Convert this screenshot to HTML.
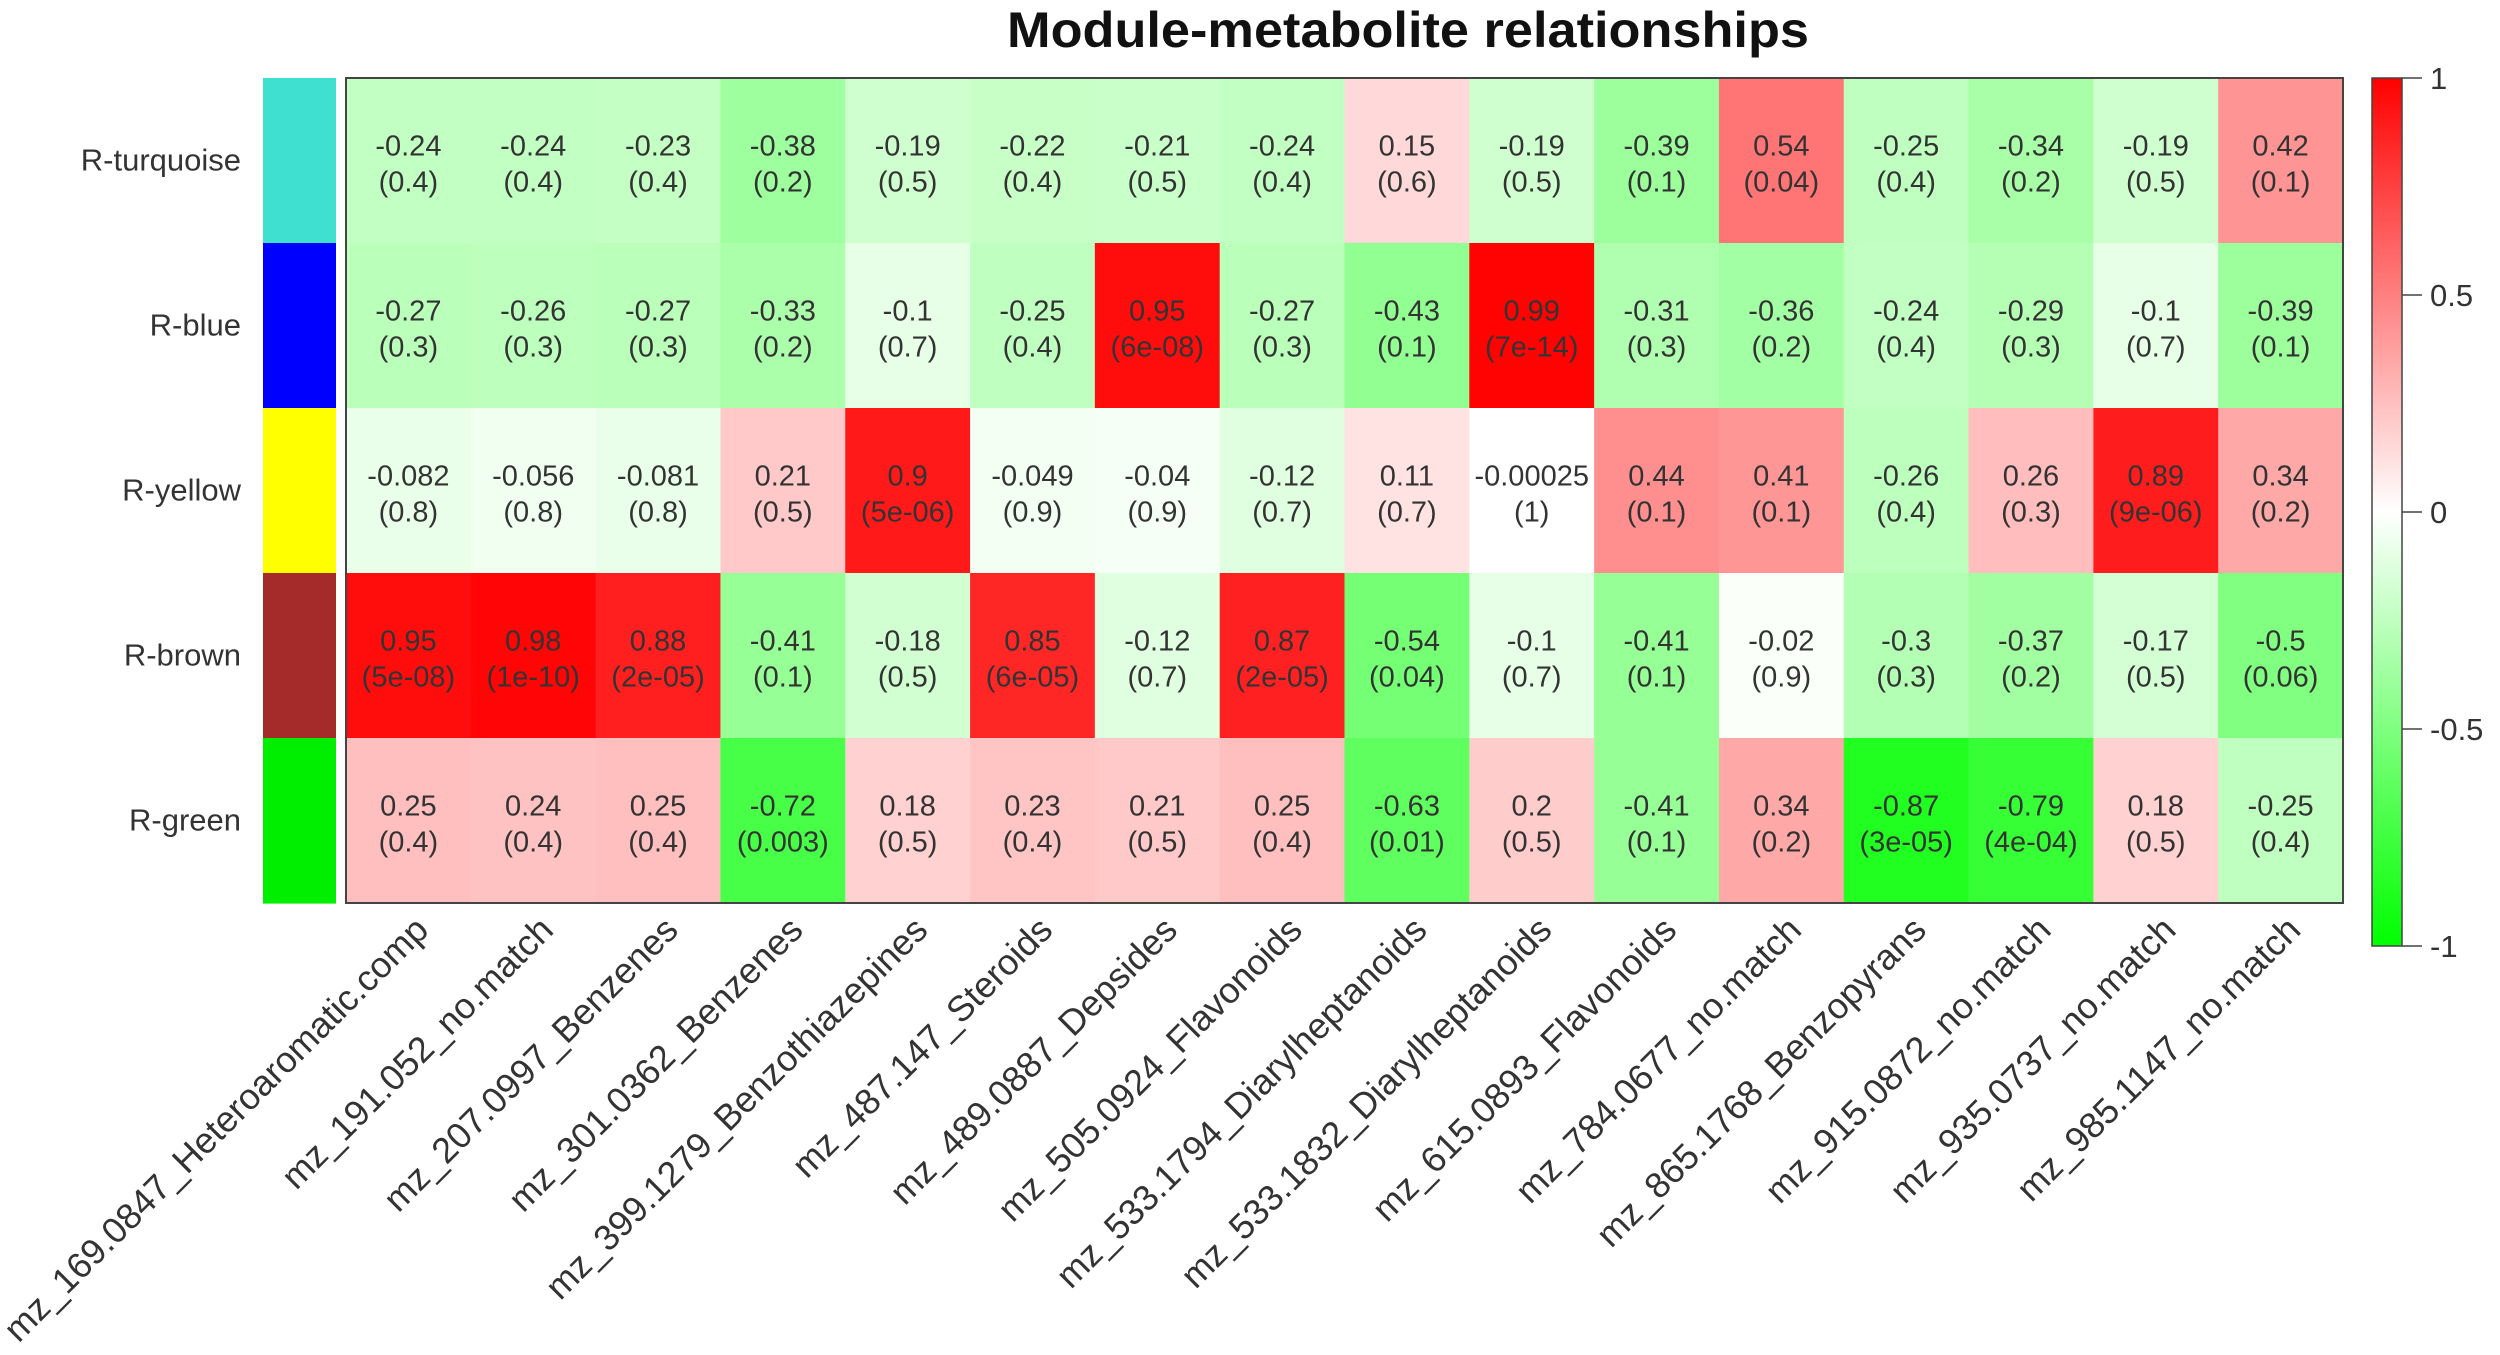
<!DOCTYPE html>
<html><head><meta charset="utf-8"><title>Module-metabolite relationships</title>
<style>html,body{margin:0;padding:0;background:#fff;}svg{display:block;font-family:"Liberation Sans",Arial,sans-serif;}</style>
</head><body>
<svg id="chart" width="2500" height="1355" viewBox="0 0 2500 1355" xmlns="http://www.w3.org/2000/svg">
<text x="1408" y="47" text-anchor="middle" font-size="50" font-weight="bold" fill="#111" textLength="802" lengthAdjust="spacingAndGlyphs">Module-metabolite relationships</text>
<g id="cells"></g>
<g id="labels"></g>
<g id="legend"></g>
</svg>
<script>
const modules = ["R-turquoise","R-blue","R-yellow","R-brown","R-green"];
const moduleColors = ["#40E0D0","#0000FF","#FFFF00","#A52A2A","#00EE00"];
const metabolites = ["mz_169.0847_Heteroaromatic.comp","mz_191.052_no.match","mz_207.0997_Benzenes","mz_301.0362_Benzenes","mz_399.1279_Benzothiazepines","mz_487.147_Steroids","mz_489.0887_Depsides","mz_505.0924_Flavonoids","mz_533.1794_Diarylheptanoids","mz_533.1832_Diarylheptanoids","mz_615.0893_Flavonoids","mz_784.0677_no.match","mz_865.1768_Benzopyrans","mz_915.0872_no.match","mz_935.0737_no.match","mz_985.1147_no.match"];
const corTurquoise = [-0.24,-0.24,-0.23,-0.38,-0.19,-0.22,-0.21,-0.24,0.15,-0.19,-0.39,0.54,-0.25,-0.34,-0.19,0.42];
const corBlue = [-0.27,-0.26,-0.27,-0.33,-0.1,-0.25,0.95,-0.27,-0.43,0.99,-0.31,-0.36,-0.24,-0.29,-0.1,-0.39];
const corYellow = [-0.082,-0.056,-0.081,0.21,0.9,-0.049,-0.04,-0.12,0.11,-0.00025,0.44,0.41,-0.26,0.26,0.89,0.34];
const corBrown = [0.95,0.98,0.88,-0.41,-0.18,0.85,-0.12,0.87,-0.54,-0.1,-0.41,-0.02,-0.3,-0.37,-0.17,-0.5];
const corGreen = [0.25,0.24,0.25,-0.72,0.18,0.23,0.21,0.25,-0.63,0.2,-0.41,0.34,-0.87,-0.79,0.18,-0.25];
const pTurquoise = ["0.4","0.4","0.4","0.2","0.5","0.4","0.5","0.4","0.6","0.5","0.1","0.04","0.4","0.2","0.5","0.1"];
const pBlue = ["0.3","0.3","0.3","0.2","0.7","0.4","6e-08","0.3","0.1","7e-14","0.3","0.2","0.4","0.3","0.7","0.1"];
const pYellow = ["0.8","0.8","0.8","0.5","5e-06","0.9","0.9","0.7","0.7","1","0.1","0.1","0.4","0.3","9e-06","0.2"];
const pBrown = ["5e-08","1e-10","2e-05","0.1","0.5","6e-05","0.7","2e-05","0.04","0.7","0.1","0.9","0.3","0.2","0.5","0.06"];
const pGreen = ["0.4","0.4","0.4","0.003","0.5","0.4","0.5","0.4","0.01","0.5","0.1","0.2","3e-05","4e-04","0.5","0.4"];
const legendTicks = [1,0.5,0,-0.5,-1];

const corRows = [corTurquoise,corBlue,corYellow,corBrown,corGreen];
const pRows = [pTurquoise,pBlue,pYellow,pBrown,pGreen];
const NS="http://www.w3.org/2000/svg";
const L=346,R=2343,T=78,B=903;
const cw=(R-L)/metabolites.length, rh=(B-T)/modules.length;
const xPos=i=>L+i*cw, yPos=j=>T+j*rh;
function col(v){v=Math.max(-1,Math.min(1,v));
 if(v>=0){const o=Math.round(255*(1-v));return `rgb(255,${o},${o})`;}
 const o=Math.round(255*(1+v));return `rgb(${o},255,${o})`;}
function mk(tag,attrs,parent){const e=document.createElementNS(NS,tag);for(const k in attrs)e.setAttribute(k,attrs[k]);parent.appendChild(e);return e;}
const cells=document.getElementById('cells'), labels=document.getElementById('labels'), legend=document.getElementById('legend');
corRows.forEach((row,j)=>{
  row.forEach((v,i)=>{
    const r=mk('rect',{x:xPos(i),y:yPos(j),width:cw+0.6,height:rh+0.6,fill:col(v)},cells);
    
    
    const cx=xPos(i)+cw/2, cy=yPos(j)+rh/2;
    const t1=mk('text',{x:cx,y:cy-5,'text-anchor':'middle','font-size':29,fill:'#333'},cells);
    t1.textContent=String(v);
    
    
    const t2=mk('text',{x:cx,y:cy+31,'text-anchor':'middle','font-size':29,fill:'#333'},cells);
    t2.textContent='('+pRows[j][i]+')';
    
    
  });
  const sw=mk('rect',{x:263,y:yPos(j),width:73,height:rh+0.6,fill:moduleColors[j]},labels);
  
  
  const lt=mk('text',{x:241,y:yPos(j)+rh/2+10,'text-anchor':'end','font-size':31,fill:'#333'},labels);
  lt.textContent=modules[j];
  
  
});
const border=mk('rect',{x:L,y:T,width:R-L,height:B-T,fill:'none',stroke:'#444','stroke-width':2},cells);


metabolites.forEach((m,i)=>{
  const x=xPos(i)+cw/2+22, y=932;
  const t=mk('text',{x:x,y:y,'text-anchor':'end','font-size':36,fill:'#333',transform:`rotate(-45 ${x} ${y})`},labels);
  t.textContent=m;
  
  
});
// legend
const LX=2372,LW=30,LT=78,LB=946;
const defs=mk('defs',{},legend);
const g=mk('linearGradient',{id:'lg',x1:0,y1:0,x2:0,y2:1},defs);
[[0,'#ff0000'],[0.5,'#ffffff'],[1,'#00ff00']].forEach(s=>mk('stop',{offset:s[0],'stop-color':s[1]},g));
const bar=mk('rect',{x:LX,y:LT,width:LW,height:LB-LT,fill:'url(#lg)',stroke:'#444','stroke-width':1.5},legend);


const ly=v=>LT+(1-v)/2*(LB-LT);
legendTicks.forEach(v=>{
  mk('line',{x1:LX+LW,x2:LX+LW+20,y1:ly(v),y2:ly(v),stroke:'#444','stroke-width':1.5},legend);
  const t=mk('text',{x:LX+LW+28,y:ly(v)+11,'font-size':31,fill:'#333'},legend);
  t.textContent=String(v);
  
  
});
</script>
</body></html>
